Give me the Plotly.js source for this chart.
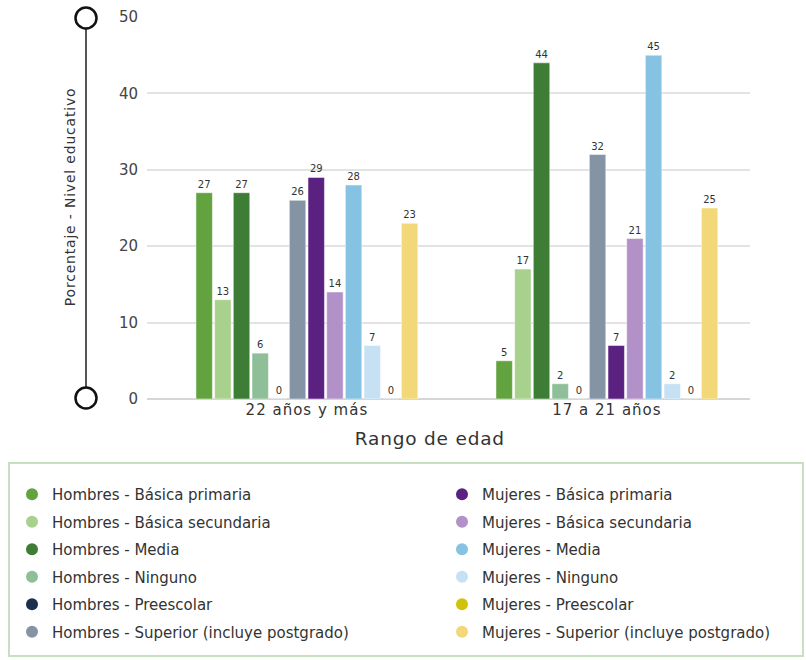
<!DOCTYPE html>
<html>
<head>
<meta charset="utf-8">
<script src="https://cdn.plot.ly/plotly-3.0.1.min.js"></script>
<style>
  html, body { margin: 0; padding: 0; background: #ffffff; }
  #chart { width: 806px; height: 660px; }
  /* Wider tracking for axis labels and titles */
  #chart .xtick text { letter-spacing: 1px; }
  #chart .annotation-text { letter-spacing: 0.8px; }
</style>
</head>
<body>
<div id="chart"></div>
<script>
// Age ranges on the x axis
const categories = ["22 años y más", "17 a 21 años"];

// Education levels, in bar order within each group
const levels = ["Básica primaria", "Básica secundaria", "Media", "Ninguno", "Preescolar", "Superior (incluye postgrado)"];

// Percentages per level, first for "22 años y más", then for "17 a 21 años"
const hombresPrimaria   = [27, 5];
const hombresSecundaria = [13, 17];
const hombresMedia      = [27, 44];
const hombresNinguno    = [6, 2];
const hombresPreescolar = [0, 0];
const hombresSuperior   = [26, 32];

const mujeresPrimaria   = [29, 7];
const mujeresSecundaria = [14, 21];
const mujeresMedia      = [28, 45];
const mujeresNinguno    = [7, 2];
const mujeresPreescolar = [0, 0];
const mujeresSuperior   = [23, 25];

const yTicks = [0, 10, 20, 30, 40, 50];

const hombresColors = ["#62a23f", "#a9d18e", "#3d7d35", "#8fbf98", "#1c2f4d", "#8594a5"];
const mujeresColors = ["#5b2181", "#b191c8", "#86c2e2", "#c6e1f3", "#d1c20a", "#f3d87a"];

const hombresValues = [hombresPrimaria, hombresSecundaria, hombresMedia, hombresNinguno, hombresPreescolar, hombresSuperior];
const mujeresValues = [mujeresPrimaria, mujeresSecundaria, mujeresMedia, mujeresNinguno, mujeresPreescolar, mujeresSuperior];

const FONT = "DejaVu Sans, Verdana, sans-serif";
const traces = [];

function addSeries(group, values, colors, legendId) {
  values.forEach((vals, i) => {
    const name = group + " - " + levels[i];
    traces.push({
      type: "bar",
      name: name,
      x: categories,
      y: vals,
      text: vals.map(String),
      textposition: "outside",
      cliponaxis: false,
      textfont: { family: FONT, size: 10, color: "#333333" },
      marker: { color: colors[i], line: { color: "rgba(255,255,255,0.6)", width: 0.8 } },
      showlegend: false,
      hoverinfo: "x+y+name"
    });
  });
  // Circle legend entries for the series
  values.forEach((vals, i) => {
    traces.push({
      type: "scatter",
      mode: "markers",
      name: group + " - " + levels[i],
      x: [null],
      y: [null],
      marker: { color: colors[i], size: 12, symbol: "circle" },
      legend: legendId,
      legendgroup: group + i,
      hoverinfo: "skip"
    });
  });
}

addSeries("Hombres", hombresValues, hombresColors, "legend");
addSeries("Mujeres", mujeresValues, mujeresColors, "legend2");

// Plot area spans x 147..750 px and y 17..399 px
const L = 147, R = 56, T = 17, B = 261;
const W = 806 - L - R, H = 660 - T - B;
const px = v => (v - L) / W;          // pixel x -> paper x
const py = v => (660 - B - v) / H;    // pixel y -> paper y

const legendBase = {
  orientation: "v",
  traceorder: "grouped",
  tracegroupgap: 5,
  font: { family: FONT, size: 15, color: "#333333" },
  bgcolor: "rgba(0,0,0,0)",
  borderwidth: 0,
  itemwidth: 30,
  xanchor: "left",
  yanchor: "top",
  y: py(478)
};

const layout = {
  width: 806,
  height: 660,
  paper_bgcolor: "#ffffff",
  plot_bgcolor: "#ffffff",
  margin: { l: L, r: R, t: T, b: B, pad: 0, autoexpand: false },
  barmode: "group",
  bargap: 0.253,
  bargroupgap: 0.12,
  font: { family: FONT, color: "#444444" },
  xaxis: {
    type: "category",
    range: [-0.533, 1.477],
    showgrid: false,
    zeroline: false,
    showline: false,
    ticks: "",
    tickfont: { family: FONT, size: 15, color: "#333333" },
    automargin: false
  },
  yaxis: {
    range: [0, 50],
    tickvals: yTicks,
    ticktext: yTicks.map(String),
    showgrid: true,
    gridcolor: "#e3e3e3",
    gridwidth: 1.5,
    zeroline: true,
    zerolinecolor: "#d6d6d6",
    zerolinewidth: 1.5,
    showline: false,
    ticks: "",
    ticklabelstandoff: 8,
    tickfont: { family: FONT, size: 15, color: "#444444" },
    automargin: false
  },
  legend: Object.assign({}, legendBase, { x: px(12) }),
  legend2: Object.assign({}, legendBase, { x: px(442) }),
  annotations: [
    {
      text: "Porcentaje - Nivel educativo",
      xref: "paper", yref: "paper",
      x: px(70), y: py(197),
      xanchor: "center", yanchor: "middle",
      textangle: -90,
      showarrow: false,
      font: { family: FONT, size: 14, color: "#333333" }
    },
    {
      text: "Rango de edad",
      xref: "paper", yref: "paper",
      x: px(430), y: py(438),
      xanchor: "center", yanchor: "middle",
      showarrow: false,
      font: { family: FONT, size: 18.5, color: "#333333" }
    }
  ],
  shapes: [
    // Decorative y-axis rail with end rings
    {
      type: "line", xref: "paper", yref: "paper",
      x0: px(86), x1: px(86), y0: py(18), y1: py(398),
      line: { color: "#555555", width: 2 }
    },
    {
      type: "circle", xref: "paper", yref: "paper",
      xsizemode: "pixel", ysizemode: "pixel",
      xanchor: px(86), yanchor: py(18),
      x0: -10.5, x1: 10.5, y0: -10.5, y1: 10.5,
      fillcolor: "#ffffff", line: { color: "#111111", width: 2.5 }
    },
    {
      type: "circle", xref: "paper", yref: "paper",
      xsizemode: "pixel", ysizemode: "pixel",
      xanchor: px(86), yanchor: py(398),
      x0: -10.5, x1: 10.5, y0: -10.5, y1: 10.5,
      fillcolor: "#ffffff", line: { color: "#111111", width: 2.5 }
    },
    // Legend frame
    {
      type: "rect", xref: "paper", yref: "paper",
      x0: px(9), x1: px(803), y0: py(463), y1: py(656),
      fillcolor: "rgba(0,0,0,0)",
      line: { color: "#c9dfc1", width: 2 }
    }
  ]
};

Plotly.newPlot("chart", traces, layout, { displayModeBar: false, responsive: false });
</script>
</body>
</html>
